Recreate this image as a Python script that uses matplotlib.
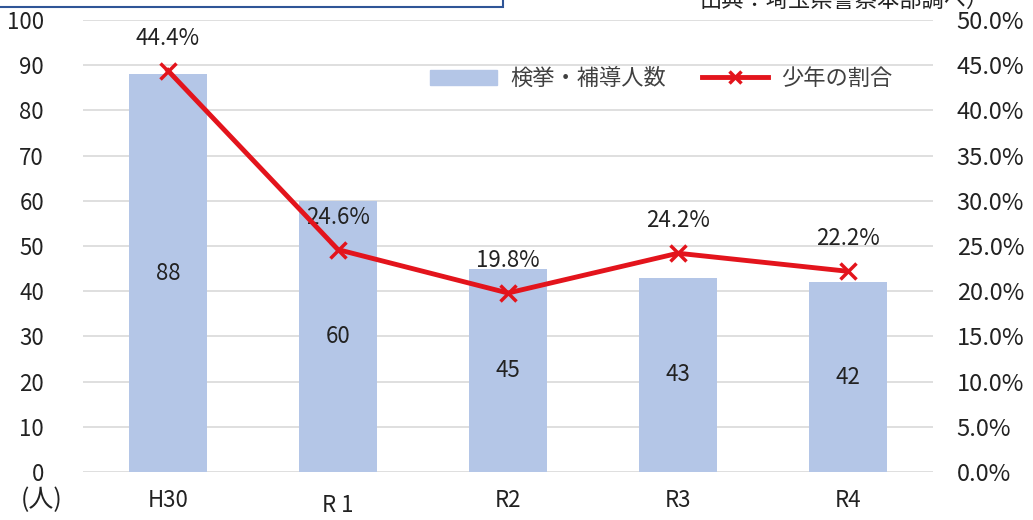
import matplotlib.pyplot as plt
from matplotlib.patches import Rectangle
from matplotlib.lines import Line2D

plt.rcParams['font.family'] = ['Noto Sans CJK JP', 'DejaVu Sans']

years = ['H30', 'R 1', 'R2', 'R3', 'R4']
counts = [88, 60, 45, 43, 42]
ratio = [44.4, 24.6, 19.8, 24.2, 22.2]

bar_col = '#b4c6e7'
red = '#e3141c'
txt = '#222222'

fig = plt.figure(figsize=(10.33, 5.2), dpi=100)
ax = fig.add_axes([83 / 1033, 48 / 520, 850 / 1033, 452 / 520])
ax2 = ax.twinx()

x = range(len(years))
ax.bar(x, counts, width=0.46, color=bar_col, zorder=2)
for i, v in enumerate(counts):
    ax.text(i, v / 2, str(v), ha='center', va='center', fontsize=16, color=txt, zorder=3)

ax.set_xlim(-0.5, len(years) - 0.5)
ax.set_ylim(0, 100)
ax.set_yticks(range(0, 101, 10))
ax.grid(axis='y', color='#d9d9d9', linewidth=1.2, zorder=0)
ax.set_axisbelow(True)
for s in ax.spines.values():
    s.set_visible(False)
for s in ax2.spines.values():
    s.set_visible(False)
ax.tick_params(axis='y', length=0, pad=28, labelsize=16, labelcolor=txt)
ax.tick_params(axis='x', length=0, pad=12, labelsize=16, labelcolor=txt)
ax.set_xticks(list(x))
ax.set_xticklabels(years)
for lab in ax.get_xticklabels():
    if lab.get_text() == 'R 1':
        lab.set_y(-0.012)

ax2.plot(list(x), ratio, color=red, linewidth=3.5, marker='x', markersize=12,
         markeredgewidth=2.5, zorder=4)
for i, v in enumerate(ratio):
    ax2.text(i, v + 3.6, f'{v}%', ha='center', va='center', fontsize=16, color=txt)
ax2.set_ylim(0, 50)
ax2.set_yticks(range(0, 51, 5))
ax2.set_yticklabels([f'{t:.1f}%' for t in range(0, 51, 5)])
ax2.tick_params(axis='y', length=0, pad=17, labelsize=17, labelcolor=txt)

fig.text(42 / 1033, 1 - 500 / 520, '(人)', ha='center', va='center', fontsize=18, color=txt)

handles = [Rectangle((0, 0), 1, 1, color=bar_col),
           Line2D([0], [0], color=red, linewidth=3.5, marker='x', markersize=9, markeredgewidth=2.5)]
ax.legend(handles, ['検挙・補導人数', '少年の割合'], loc='upper left',
          bbox_to_anchor=(0.385, 0.94), ncol=2, frameon=False, fontsize=16,
          handlelength=3.0, handletextpad=0.6, columnspacing=1.6, labelcolor='#404040')

# cut-off box and source note at the top
fig.patches.append(Rectangle((-0.01, 1 - 7 / 520), 513 / 1033, 0.1, transform=fig.transFigure,
                             fill=False, edgecolor='#2f5597', linewidth=1.5))
fig.text(700 / 1033, 1.0, '出典：埼玉県警察本部調べ）', ha='left', va='center', fontsize=16, color=txt)

fig.savefig('out.png', dpi=100)
